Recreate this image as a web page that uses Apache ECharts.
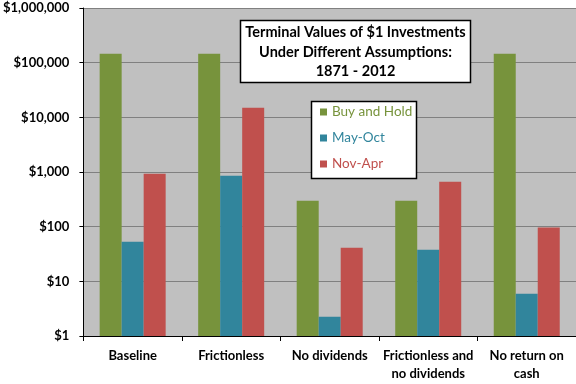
<!DOCTYPE html>
<html>
<head>
<meta charset="utf-8">
<script src="https://cdn.jsdelivr.net/npm/echarts@6/dist/echarts.min.js"></script>
<style>html,body{margin:0;padding:0;background:#fff;}#c{width:576px;height:384px;}</style>
</head>
<body>
<div id="c"></div>
<script>
const categories = ['Baseline', 'Frictionless', 'No dividends', 'Frictionless and\nno dividends', 'No return on\ncash'];
const seriesNames = ['Buy and Hold', 'May-Oct', 'Nov-Apr'];
const buyAndHold = [145000, 145000, 297, 297, 145000];
const mayOct = [53, 853, 2.25, 37.8, 5.93];
const novApr = [927, 14900, 41, 662, 96.7];
const colors = ['#77933C', '#31859C', '#C0504D'];
const titleLines = ['Terminal Values of $1 Investments', 'Under Different Assumptions:', '1871 - 2012'];

const FONT = 'Lato, "Liberation Sans", sans-serif';
const chart = echarts.init(document.getElementById('c'), null, {renderer: 'canvas'});
const values = [buyAndHold, mayOct, novApr];

chart.setOption({
  animation: false,
  grid: {left: 82, right: 0, top: 8, bottom: 48, show: true, backgroundColor: '#C0C0C0', borderWidth: 0},
  legend: {
    orient: 'vertical', left: 320, top: 104, itemWidth: 7, itemHeight: 7, itemGap: 10,
    icon: 'rect', padding: 0,
    data: seriesNames.map((n, i) => ({name: n, textStyle: {color: colors[i]}})),
    textStyle: {fontFamily: FONT, fontSize: 13.5, lineHeight: 16}
  },
  xAxis: {
    type: 'category', data: categories,
    axisLine: {lineStyle: {color: '#000', width: 1}},
    axisTick: {show: true, length: 5, lineStyle: {color: '#000'}},
    axisLabel: {color: '#000', fontFamily: FONT, fontWeight: 'bold', fontSize: 13, lineHeight: 18, margin: 11, interval: 0}
  },
  yAxis: {
    type: 'log', logBase: 10, min: 1, max: 1000000,
    axisLine: {show: true, lineStyle: {color: '#000', width: 1}},
    axisTick: {show: true, length: 4, lineStyle: {color: '#000'}},
    splitLine: {show: true, lineStyle: {color: '#808080', width: 1}},
    minorTick: {show: false},
    axisLabel: {
      color: '#000', fontFamily: FONT, fontWeight: 'bold', fontSize: 13, margin: 14,
      formatter: v => '$' + Math.round(v).toLocaleString('en-US')
    }
  },
  series: seriesNames.map((n, i) => ({
    name: n, type: 'bar', data: values[i],
    barGap: '0%', barCategoryGap: '33%',
    itemStyle: {color: colors[i]}
  })),
  graphic: [
    {type: 'rect', shape: {x: 240.5, y: 20.5, width: 230, height: 62}, style: {fill: '#fff', stroke: '#000', lineWidth: 1.5}, z: 100},
    {type: 'text', x: 355.5, y: 52, z: 101,
     style: {text: titleLines.join('\n'), fill: '#000', font: 'bold 14.5px ' + FONT, textAlign: 'center', textVerticalAlign: 'middle', lineHeight: 19.5}},
    {type: 'rect', shape: {x: 311.5, y: 101.5, width: 105, height: 77}, style: {fill: '#fff', stroke: '#000', lineWidth: 1.5}, z: 1}
  ]
});
</script>
</body>
</html>
